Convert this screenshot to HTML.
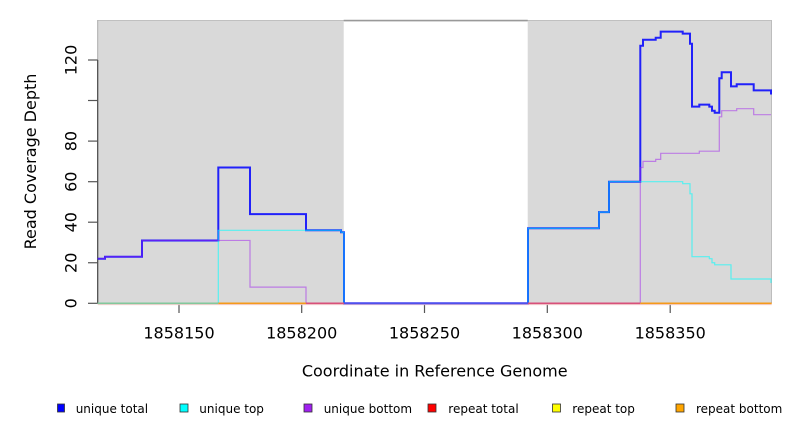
<!DOCTYPE html>
<html>
<head>
<meta charset="utf-8">
<style>
html,body{margin:0;padding:0;background:#fff;}
svg{display:block;}
text{font-family:"DejaVu Sans","Liberation Sans",sans-serif;fill:#000;}
</style>
</head>
<body>
<svg width="792" height="432" viewBox="0 0 792 432" xmlns="http://www.w3.org/2000/svg">
  <!-- backgrounds -->
  <rect x="97.7" y="20" width="246" height="283.3" fill="#d9d9d9"/>
  <rect x="527.7" y="20" width="244" height="283.3" fill="#d9d9d9"/>
  <!-- frame -->
  <line x1="97.7" y1="20.5" x2="771.7" y2="20.5" stroke="#c0c0c0" stroke-width="1"/>
  <line x1="343.7" y1="20.6" x2="527.7" y2="20.6" stroke="#999" stroke-width="1.6"/>
  <line x1="771.5" y1="20" x2="771.5" y2="303.3" stroke="#bdbdbd" stroke-width="1"/>
  <line x1="97.7" y1="20" x2="97.7" y2="60" stroke="#aaa" stroke-width="1"/>
  <line x1="97.7" y1="60" x2="97.7" y2="303.3" stroke="#444" stroke-width="1.2"/>

  <!-- y ticks -->
  <g stroke="#555" stroke-width="1.2">
    <line x1="88" y1="303.3" x2="97.7" y2="303.3"/>
    <line x1="88" y1="262.75" x2="97.7" y2="262.75"/>
    <line x1="88" y1="222.2" x2="97.7" y2="222.2"/>
    <line x1="88" y1="181.7" x2="97.7" y2="181.7"/>
    <line x1="88" y1="141.1" x2="97.7" y2="141.1"/>
    <line x1="88" y1="100.5" x2="97.7" y2="100.5"/>
    <line x1="88" y1="60" x2="97.7" y2="60"/>
  </g>
  <!-- x ticks -->
  <g stroke="#555" stroke-width="1.2">
    <line x1="179" y1="303.5" x2="179" y2="313"/>
    <line x1="301.7" y1="303.5" x2="301.7" y2="313"/>
    <line x1="424.5" y1="303.5" x2="424.5" y2="313"/>
    <line x1="547.3" y1="303.5" x2="547.3" y2="313"/>
    <line x1="670.2" y1="303.5" x2="670.2" y2="313"/>
  </g>

  <!-- faint line below baseline -->
  <line x1="97.7" y1="304.6" x2="771.7" y2="304.6" stroke="#f3cccc" stroke-width="1"/>

  <!-- unique total (blue) -->
  <path d="M97.7,258.7 H105 V256.7 H142 V240.45 H218.3 V167.5 H250 V214.1 H306 V230.3 H341 V232.3 H344 V303.3 H528 V228.3 H599 V212.1 H609 V181.7 H640.3 V45.8 H643 V39.7 H655.7 V37.7 H660.7 V31.6 H682.7 V33.6 H690 V43.8 H692 V106.6 H699.3 V104.6 H709.3 V106.6 H712 V110.7 H714.7 V112.7 H719.3 V78.2 H721.7 V72.2 H731 V86.4 H736.7 V84.3 H753.7 V90.4 H771 V94.5"
        fill="none" stroke="#0000ff" stroke-opacity="0.85" stroke-width="2"/>

  <!-- unique top (cyan) -->
  <path d="M218.3,303.3 V230.3 H341 V232.3 H344 V303.3 M528,303.3 V228.3 H599 V212.1 H609 V181.7 H682.7 V183.7 H690 V193.8 H692 V256.7 H709.3 V258.7 H712 V262.75 H714.7 V264.8 H731 V279 H771 V283"
        fill="none" stroke="#00ffff" stroke-opacity="0.6" stroke-width="1.2"/>

  <!-- unique bottom (purple) -->
  <path d="M97.7,258.7 H105 V256.7 H142 V240.45 H250 V287.1 H306 V303.3 M640.3,303.3 V167.5 H643 V161.4 H655.7 V159.4 H660.7 V153.3 H699.3 V151.2 H719.3 V116.8 H721.7 V110.7 H736.7 V108.7 H753.7 V114.7 H771"
        fill="none" stroke="#a020f0" stroke-opacity="0.5" stroke-width="1.2"/>

  <!-- baseline segments -->
  <g stroke-width="1.6">
    <line x1="97.7" y1="303.3" x2="218.3" y2="303.3" stroke="#82c89c"/>
    <line x1="218.3" y1="303.3" x2="306" y2="303.3" stroke="#f59a1a"/>
    <line x1="306" y1="303.3" x2="344" y2="303.3" stroke="#d8507a"/>
    <line x1="344" y1="303.3" x2="528" y2="303.3" stroke="#5050ea"/>
    <line x1="528" y1="303.3" x2="640.3" y2="303.3" stroke="#d8507a"/>
    <line x1="640.3" y1="303.3" x2="771.7" y2="303.3" stroke="#f59a1a"/>
  </g>

  <!-- y labels -->
  <g font-size="16" text-anchor="middle">
    <text x="76.5" y="303.3" transform="rotate(-90 76.5 303.3)">0</text>
    <text x="76.5" y="262.75" transform="rotate(-90 76.5 262.75)">20</text>
    <text x="76.5" y="222.2" transform="rotate(-90 76.5 222.2)">40</text>
    <text x="76.5" y="181.7" transform="rotate(-90 76.5 181.7)">60</text>
    <text x="76.5" y="141.1" transform="rotate(-90 76.5 141.1)">80</text>
    <text x="76.5" y="60" transform="rotate(-90 76.5 60)">120</text>
  </g>
  <text x="36" y="161.5" font-size="16" text-anchor="middle" transform="rotate(-90 36 161.5)">Read Coverage Depth</text>

  <!-- x labels -->
  <g font-size="16" text-anchor="middle">
    <text x="179" y="338.3">1858150</text>
    <text x="301.7" y="338.3">1858200</text>
    <text x="424.5" y="338.3">1858250</text>
    <text x="547.3" y="338.3">1858300</text>
    <text x="670.2" y="338.3">1858350</text>
  </g>
  <text x="434.7" y="376.7" font-size="16" text-anchor="middle">Coordinate in Reference Genome</text>

  <!-- legend -->
  <g stroke="#333" stroke-width="0.8">
    <rect x="57.5" y="404" width="7" height="8" fill="#0000ff"/>
    <rect x="180" y="404" width="8" height="8" fill="#00ffff"/>
    <rect x="304" y="404" width="8" height="8" fill="#a020f0"/>
    <rect x="428" y="404" width="8" height="8" fill="#ff0000"/>
    <rect x="552.5" y="404" width="8" height="8" fill="#ffff00"/>
    <rect x="676" y="404" width="8" height="8" fill="#ffa500"/>
  </g>
  <g font-size="12">
    <text x="75.7" y="413">unique total</text>
    <text x="199.3" y="413">unique top</text>
    <text x="323.7" y="413">unique bottom</text>
    <text x="448.3" y="413">repeat total</text>
    <text x="572.3" y="413">repeat top</text>
    <text x="696" y="413">repeat bottom</text>
  </g>
</svg>
</body>
</html>
